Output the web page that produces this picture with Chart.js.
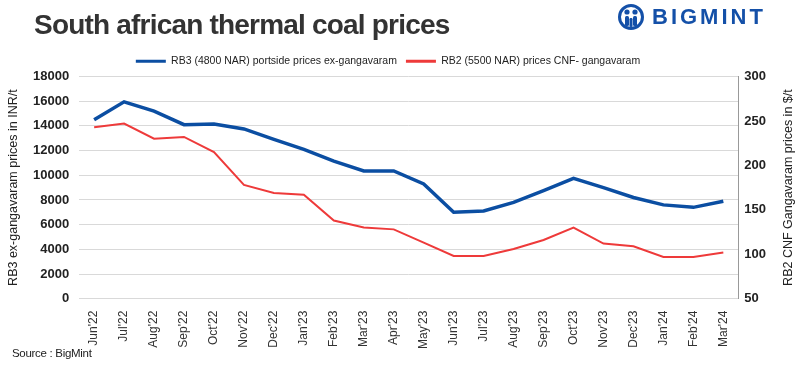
<!DOCTYPE html>
<html>
<head>
<meta charset="utf-8">
<script src="https://cdn.jsdelivr.net/npm/chart.js@4.4.1/dist/chart.umd.min.js"></script>
<style>
  body { margin: 0; background: #fff; }
  #wrap { position: relative; width: 796px; height: 369px; overflow: hidden; }
  #title { position: absolute; left: 34px; top: 9px; font: bold 28px "Liberation Sans", Arial, sans-serif; color: #333; letter-spacing: -0.8px; }
  #logo { position: absolute; left: 618px; top: 4px; display: flex; align-items: center; }
  #logo span { font: 900 22px "Liberation Sans", Arial, sans-serif; color: #1450a8; letter-spacing: 3px; margin-left: 8px; }
  #source { position: absolute; left: 12px; top: 347px; font: 11.5px "Liberation Sans", Arial, sans-serif; color: #222; letter-spacing: -0.3px; }
  canvas { position: absolute; left: 0; top: 0; }
</style>
</head>
<body>
<div id="wrap">
  <canvas id="myChart" width="796" height="369"></canvas>
  <div id="title">South african thermal coal prices</div>
  <div id="logo">
    <svg width="26" height="26" viewBox="0 0 26 26">
      <circle cx="13" cy="13" r="11.5" fill="none" stroke="#1450a8" stroke-width="3"/>
      <circle cx="9" cy="8" r="2.6" fill="#1450a8"/>
      <circle cx="17" cy="8" r="2.6" fill="#1450a8"/>
      <rect x="7" y="12" width="4" height="10" rx="1.5" fill="#1450a8"/>
      <rect x="15" y="12" width="4" height="10" rx="1.5" fill="#1450a8"/>
      <rect x="11.5" y="14" width="3" height="9" rx="1.2" fill="#1450a8"/>
    </svg>
    <span>BIGMINT</span>
  </div>
  <div id="source">Source : BigMint</div>
</div>
<script>
const months = ["Jun'22", "Jul'22", "Aug'22", "Sep'22", "Oct'22", "Nov'22", "Dec'22", "Jan'23",
  "Feb'23", "Mar'23", "Apr'23", "May'23", "Jun'23", "Jul'23", "Aug'23", "Sep'23", "Oct'23",
  "Nov'23", "Dec'23", "Jan'24", "Feb'24", "Mar'24"];

// RB3 (4800 NAR) portside, INR/t
const rb3Inr = [14500, 15950, 15200, 14100, 14150, 13750, 12900, 12100, 11150, 10350, 10350,
  9300, 7000, 7100, 7800, 8750, 9750, 9000, 8200, 7600, 7400, 7900];

// RB2 (5500 NAR) CNF, $/t
const rb2Usd = [243, 247, 230, 232, 215, 178, 169, 167, 138, 130, 128, 113, 98, 98, 106, 116,
  130, 112, 109, 97, 97, 102];

const rb3Label = "RB3 (4800 NAR) portside prices ex-gangavaram";
const rb2Label = "RB2 (5500 NAR) prices CNF- gangavaram";
const rightTitle = "RB2 CNF Gangavaram prices in $/t";

const tickFont = { family: "Liberation Sans", size: 13, weight: "bold" };

// right axis title reads bottom-to-top, chart.js turns it the other way
const rightTitlePlugin = {
  id: "rightTitle",
  afterDraw(chart) {
    const c = chart.ctx;
    const area = chart.chartArea;
    c.save();
    c.translate(789, (area.top + area.bottom) / 2);
    c.rotate(-Math.PI / 2);
    c.font = "12.5px 'Liberation Sans'";
    c.fillStyle = "#222";
    c.textAlign = "center";
    c.textBaseline = "middle";
    c.fillText(rightTitle, 0, 0);
    c.restore();
  },
};

initChart();

function initChart() {
  const ctx = document.getElementById("myChart").getContext("2d");
  window.chart = new Chart(ctx, {
    type: "line",
    data: {
      labels: months,
      datasets: [
        {
          label: rb3Label,
          data: rb3Inr,
          borderColor: "#0b4ea2",
          backgroundColor: "#0b4ea2",
          borderWidth: 3.5,
          pointRadius: 0,
          yAxisID: "y",
        },
        {
          label: rb2Label,
          data: rb2Usd,
          borderColor: "#ee3a3a",
          backgroundColor: "#ee3a3a",
          borderWidth: 2,
          pointRadius: 0,
          yAxisID: "y1",
        },
      ],
    },
    plugins: [rightTitlePlugin],
    options: {
      responsive: false,
      animation: false,
      layout: { padding: { top: 47, left: 4, right: 24, bottom: 16 } },
      plugins: {
        legend: {
          position: "top",
          labels: {
            boxWidth: 30,
            boxHeight: 3,
            padding: 9,
            color: "#222",
            font: { family: "Liberation Sans", size: 10.5 },
            generateLabels(chart) {
              return Chart.defaults.plugins.legend.labels
                .generateLabels(chart)
                .map((l) => ({ ...l, lineWidth: 0 }));
            },
          },
        },
        tooltip: { enabled: false },
      },
      scales: {
        x: {
          offset: true,
          grid: { display: false },
          border: { display: false },
          ticks: {
            minRotation: 90,
            maxRotation: 90,
            autoSkip: false,
            color: "#333",
            padding: 4,
            font: { family: "Liberation Sans", size: 12 },
          },
        },
        y: {
          position: "left",
          min: 0,
          max: 18000,
          ticks: {
            stepSize: 2000,
            color: "#222",
            font: tickFont,
            padding: 10,
            callback: (v) => String(v),
          },
          grid: { color: "#d9d9d9", drawTicks: false },
          border: { display: false },
          title: {
            display: true,
            text: "RB3 ex-gangavaram prices in INR/t",
            color: "#222",
            font: { family: "Liberation Sans", size: 12.5 },
            padding: 2,
          },
        },
        y1: {
          position: "right",
          min: 50,
          max: 300,
          ticks: { stepSize: 50, color: "#222", font: tickFont, padding: 6 },
          grid: { drawOnChartArea: false, drawTicks: false },
          border: { display: true, color: "#999", width: 1 },
        },
      },
    },
  });
}
</script>
</body>
</html>
